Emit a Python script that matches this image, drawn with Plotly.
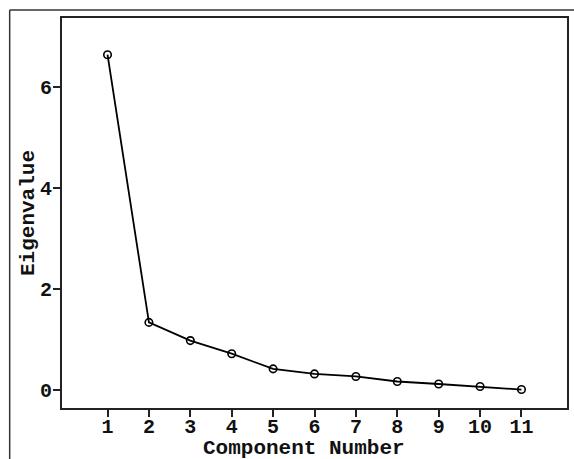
import plotly.graph_objects as go

components = [1, 2, 3, 4, 5, 6, 7, 8, 9, 10, 11]
eigenvalues = [6.63, 1.33, 0.97, 0.71, 0.41, 0.31, 0.26, 0.16, 0.11, 0.06, 0.0]
x_ticks = [1, 2, 3, 4, 5, 6, 7, 8, 9, 10, 11]
y_ticks = [0, 2, 4, 6]

font_fam = "Liberation Mono, Courier New, monospace"

fig = go.Figure()
fig.add_trace(go.Scatter(
    x=components, y=eigenvalues, mode="lines+markers",
    line=dict(color="black", width=1.8),
    marker=dict(symbol="circle-open", size=7.5, color="black", line=dict(width=1.6, color="black")),
    showlegend=False,
))

axis_common = dict(
    showgrid=False, zeroline=False, showline=True, linecolor="#222", linewidth=2.2,
    mirror=True, ticks="outside", tickcolor="#222", tickwidth=1.6, ticklen=7,
    tickfont=dict(family=font_fam, size=20, color="#111"),
)

fig.update_layout(
    width=574, height=459,
    margin=dict(l=62, r=5, t=18, b=51),
    paper_bgcolor="white", plot_bgcolor="white",
    xaxis=dict(range=[-0.1, 12.1], tickvals=x_ticks,
               ticktext=[f"<b>{v}</b>" for v in x_ticks],
               ticklabelstandoff=-8,
               **axis_common),
    yaxis=dict(range=[-0.365, 7.357], tickvals=y_ticks,
               ticktext=[f"<b>{v}</b>" for v in y_ticks],
               ticklabelstandoff=-3,
               title=dict(text="<b>Eigenvalue</b>", standoff=0,
                          font=dict(family=font_fam, size=21, color="#111")),
               **axis_common),
    annotations=[
        dict(text="<b>Component Number</b>", xref="paper", yref="paper",
             x=0.48, y=-0.105, xanchor="center", yanchor="middle", showarrow=False,
             font=dict(family=font_fam, size=21, color="#111")),
    ],
    shapes=[
        dict(type="line", xref="paper", yref="paper", x0=-0.1036, x1=-0.1036, y0=1.0205, y1=-0.14,
             line=dict(color="#333", width=1.5)),
        dict(type="line", xref="paper", yref="paper", x0=-0.1036, x1=1.02, y0=1.0205, y1=1.0205,
             line=dict(color="#333", width=1.5)),
    ],
)

fig.write_html("out.html", config={"displayModeBar": False},
               post_script="document.body.style.margin='0';document.body.style.overflow='hidden';")
